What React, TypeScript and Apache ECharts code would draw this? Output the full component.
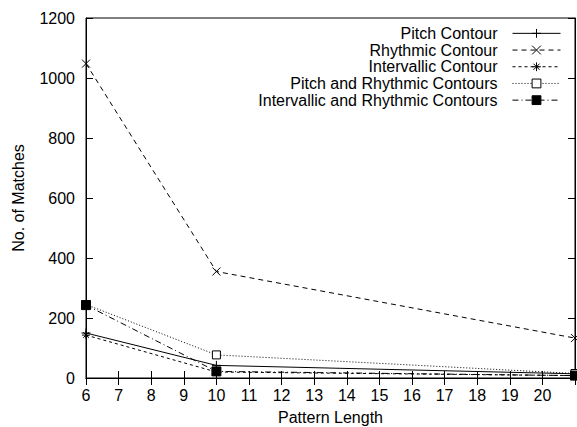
import React, { useEffect, useRef } from "react";
import * as echarts from "echarts";

const patternLengths = [6, 10, 21];
const pitchContour = [150, 42, 14];
const rhythmicContour = [1048, 355, 133];
const intervallicContour = [143, 20, 8];
const pitchRhythmic = [245, 77, 15];
const intervallicRhythmic = [243, 22, 8];
const yTicks = [0, 200, 400, 600, 800, 1000, 1200];

const FONT = "Liberation Sans, Arial, Helvetica, sans-serif";
const FS = 16;
const LFS = 16;

const PLUS = "path://M0,5L10,5M5,0L5,10";
const CROSS = "path://M0,0L10,10M10,0L0,10";
const STAR = "path://M0,5L10,5M5,0L5,10M1.5,1.5L8.5,8.5M8.5,1.5L1.5,8.5";

function pts(ys: number[]) {
  return patternLengths.map((x, i) => [x, ys[i]]);
}

export default function App() {
  const ref = useRef<HTMLDivElement>(null);
  useEffect(() => {
    if (!ref.current) return;
    const chart = echarts.init(ref.current, undefined, { renderer: "svg" });
    const mk = (
      name: string,
      ys: number[],
      symbol: string,
      size: number,
      dash: any,
      fill: string
    ) => ({
      name,
      type: "line",
      data: pts(ys),
      symbol,
      symbolSize: size,
      showAllSymbol: true,
      clip: true,
      lineStyle: { color: "#000", width: 1, type: dash },
      itemStyle: { color: fill, borderColor: "#000", borderWidth: 1 },
    });
    chart.setOption({
      animation: false,
      backgroundColor: "#fff",
      textStyle: { fontFamily: FONT, color: "#000" },
      grid: {
        left: 86,
        right: 2,
        top: 18,
        bottom: 49,
        show: true,
        borderColor: "#000",
        borderWidth: 1,
        outerBoundsMode: "none",
        containLabel: false,
      },
      legend: {
        orient: "vertical",
        align: "right",
        right: 16,
        top: 25,
        padding: 0,
        itemWidth: 48,
        itemHeight: 11,
        itemGap: 0,
        lineStyle: { width: 1 },
        itemStyle: { borderWidth: 1 },
        textStyle: { fontFamily: FONT, fontSize: LFS, color: "#000", lineHeight: 16.7, padding: [0, 10, 0, 0] },
        data: [
          "Pitch Contour",
          "Rhythmic Contour",
          "Intervallic Contour",
          "Pitch and Rhythmic Contours",
          "Intervallic and Rhythmic Contours",
        ],
      },
      xAxis: [
        {
          type: "value",
          min: 6,
          max: 21,
          interval: 1,
          name: "Pattern Length",
          nameLocation: "middle",
          nameGap: 31,
          nameTextStyle: { fontFamily: FONT, fontSize: FS, color: "#000" },
          axisLine: { show: true, lineStyle: { color: "#000", width: 1 } },
          axisTick: { show: true, inside: true, length: 7, lineStyle: { color: "#000" } },
          axisLabel: {
            fontFamily: FONT,
            fontSize: FS,
            color: "#000",
            margin: 9,
            formatter: (v: number) => (v > 20 ? "" : String(v)),
          },
          splitLine: { show: false },
        },
        {
          type: "value",
          position: "top",
          min: 6,
          max: 21,
          interval: 1,
          axisLine: { show: true, lineStyle: { color: "#000", width: 1 } },
          axisTick: { show: true, inside: true, length: 7, lineStyle: { color: "#000" } },
          axisLabel: { show: false },
          splitLine: { show: false },
        },
      ],
      yAxis: [
        {
          type: "value",
          min: yTicks[0],
          max: yTicks[yTicks.length - 1],
          interval: 200,
          name: "No. of Matches",
          nameLocation: "middle",
          nameGap: 60,
          nameTextStyle: { fontFamily: FONT, fontSize: FS, color: "#000" },
          axisLine: { show: true, lineStyle: { color: "#000", width: 1 } },
          axisTick: { show: true, inside: true, length: 7, lineStyle: { color: "#000" } },
          axisLabel: {
            fontFamily: FONT,
            fontSize: FS,
            color: "#000",
            margin: 11,
            formatter: (v: number) => String(v),
          },
          splitLine: { show: false },
        },
        {
          type: "value",
          position: "right",
          min: yTicks[0],
          max: yTicks[yTicks.length - 1],
          interval: 200,
          axisLine: { show: true, lineStyle: { color: "#000", width: 1 } },
          axisTick: { show: true, inside: true, length: 7, lineStyle: { color: "#000" } },
          axisLabel: { show: false },
          splitLine: { show: false },
        },
      ],
      series: [
        mk("Pitch Contour", pitchContour, PLUS, 9, "solid", "#000"),
        mk("Rhythmic Contour", rhythmicContour, CROSS, 8, [5, 4], "#000"),
        mk("Intervallic Contour", intervallicContour, STAR, 8, [3, 3], "#000"),
        mk("Pitch and Rhythmic Contours", pitchRhythmic, "rect", 8, [1, 2], "#fff"),
        mk("Intervallic and Rhythmic Contours", intervallicRhythmic, "rect", 9, [6, 3, 1, 3], "#000"),
      ],
    });
    return () => chart.dispose();
  }, []);
  return <div ref={ref} style={{ width: 577, height: 427, position: "absolute", left: 0, top: 0 }} />;
}
